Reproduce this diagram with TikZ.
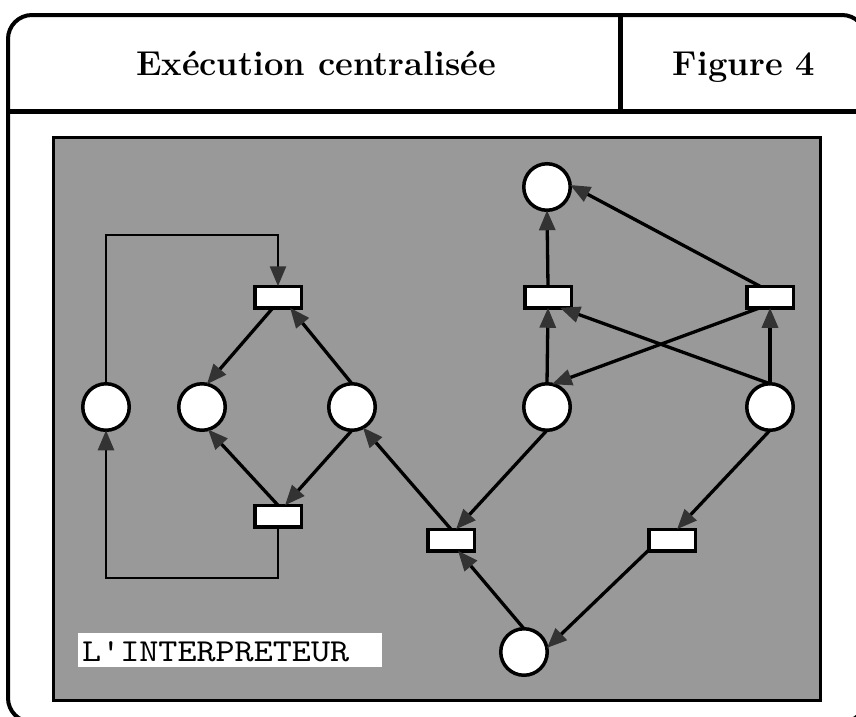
\documentclass[tikz,border=0pt]{standalone}
\usepackage{fontspec}
\setmonofont{lmmono10-regular.otf}[FakeStretch=1.135]
\usetikzlibrary{arrows.meta,calc}
\definecolor{screen}{gray}{0.6}
\definecolor{tipgray}{gray}{0.2}
\begin{document}
\begin{tikzpicture}[x=1pt,y=-1pt,
  place/.style={circle,draw=black,fill=white,line width=3.5pt,minimum size=46.5pt,inner sep=0pt,outer sep=0pt},
  trans/.style={rectangle,draw=black,fill=white,line width=3.5pt,minimum width=46.5pt,minimum height=21.5pt,inner sep=0pt,outer sep=0pt},
  arc/.style={line width=3.3pt,-{Triangle[length=20pt,width=16pt,color=tipgray]}},
  loopline/.style={line width=2.6pt,line join=miter,-{Triangle[length=20pt,width=16pt,color=tipgray]}},
  heading/.style={font=\bfseries\fontsize{34.5}{40}\selectfont,anchor=base,inner sep=0pt}
]
\useasboundingbox (0,0) rectangle (856,716);
\clip (0,0) rectangle (856,716);
\fill[white] (0,0) rectangle (856,716);

% outer frame and header
\draw[line width=4pt,rounded corners=24pt] (8,15) rectangle (866,722);
\draw[line width=5pt] (8,111) -- (866,111);
\draw[line width=5pt] (620,15) -- (620,111);
\node[heading] (title) at (316,75) {Exécution centralisée};
\node[heading] (fig) at (744,75) {Figure 4};

% screened panel
\draw[line width=3pt,fill=screen] (53,137) rectangle (820,700);

% places
\node[place] (P1) at (106,407) {};
\node[place] (P2) at (202,407) {};
\node[place] (P3) at (352,407) {};
\node[place] (P4) at (547,407) {};
\node[place] (P5) at (770,407) {};
\node[place] (P6) at (547,187) {};
\node[place] (P7) at (524,652) {};

% transitions
\node[trans] (T1) at (278,297) {};
\node[trans] (T2) at (278,516) {};
\node[trans] (TA) at (548,297) {};
\node[trans] (TB) at (770,297) {};
\node[trans] (TC) at (451,540) {};
\node[trans] (TD) at (672,540) {};

% arcs of the left net
\draw[arc] ($(T1.south)+(-5,0)$) -- (P2.78);
\draw[arc] (P3.north) -- ($(T1.south)+(12,0)$);
\draw[arc] (P3.south) -- ($(T2.north)+(7,0)$);
\draw[arc] (T2.north) -- (P2.-75);
\draw[arc] (TC.north) -- (P3.-62);

\coordinate (upper) at (190,235);
\coordinate (lower) at (190,578);
\draw[loopline] (P1.north) |- (upper) -| (T1.north);
\draw[loopline] (T2.south) |- (lower) -| (P1.south);

% arcs of the right net
\draw[arc] (P4.south) -- ($(TC.north)+(5,0)$);
\draw[arc] (P7.north) -- ($(TC.south)+(7,0)$);
\draw[arc] ($(TD.south)+(-24,0)$) -- (P7.10);
\draw[arc] (P5.south) -- ($(TD.north)+(5,0)$);
\draw[arc] (P5.north) -- ($(TA.south)+(12,0)$);
\draw[arc] ($(TB.south)+(-10,0)$) -- (P4.78);
\draw[arc] (P4.north) -- (TA.south);
\draw[arc] (P5.north) -- (TB.south);
\draw[arc] (TA.north) -- (P6.south);
\draw[arc] ($(TB.north)+(-10,0)$) -- (P6.5);

% caption
\fill[white] (78,633) rectangle (382,667);
\node[anchor=base west,inner sep=0pt,font=\ttfamily\fontsize{32}{36}\selectfont] (label) at (82,661) {L'INTERPRETEUR};
\end{tikzpicture}
\end{document}
